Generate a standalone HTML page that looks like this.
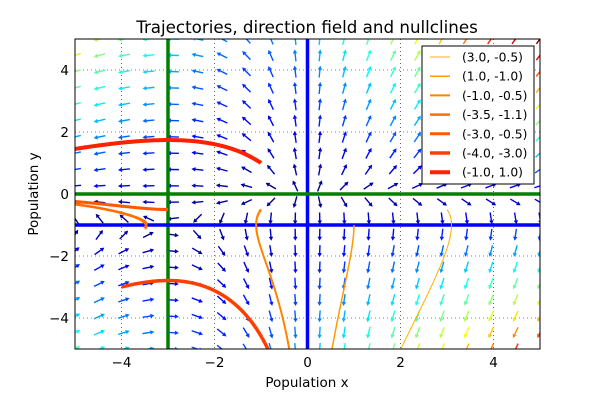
<!DOCTYPE html>
<html><head><meta charset="utf-8"><style>
body{margin:0;background:#fff}
svg text{font-family:"DejaVu Sans","Liberation Sans",sans-serif}
</style></head><body>
<svg id="chart" width="600" height="400" viewBox="0 0 600 400">
<rect width="600" height="400" fill="#fff"/>
<defs><clipPath id="pc"><rect x="75" y="39" width="465" height="310"/></clipPath></defs>
<text x="307" y="33" font-size="16.7" text-anchor="middle">Trajectories, direction field and nullclines</text>
<g id="grid"></g>
<g id="field" clip-path="url(#pc)"></g>
<g id="nulls" clip-path="url(#pc)"></g>
<g id="traj" clip-path="url(#pc)"></g>
<rect x="75" y="39" width="465" height="310" fill="none" stroke="#000" stroke-width="1"/>
<g id="ticks"></g>
<text x="307" y="387" font-size="13.5" text-anchor="middle">Population x</text>
<text x="38" y="194" font-size="13.5" text-anchor="middle" transform="rotate(-90 38 194)">Population y</text>
<g id="legend"></g>
</svg>
<script>
const ticks = [-4, -2, 0, 2, 4];
const initX = [3.0, 1.0, -1.0, -3.5, -3.0, -4.0, -1.0];
const initY = [-0.5, -1.0, -0.5, -1.1, -0.5, -3.0, 1.0];
const trajColors = ['#ffb000', '#ff9a00', '#ff8400', '#ff6e00', '#ff5800', '#ff3f00', '#ff2000'];
const nullX = [0, -3];
const nullY = [-1, 0];
const gridN = 20;
const NS = 'http://www.w3.org/2000/svg';
const sx = v => 307.5 + v * 46.5;
const sy = v => 194 - v * 31;
const fx = (x, y) => x * (y + 1);
const fy = (x, y) => y * (x + 3);
function mk(tag, attrs, parent) { const e = document.createElementNS(NS, tag); for (const k in attrs) e.setAttribute(k, attrs[k]); parent.appendChild(e); return e; }
function jet(t) {
  const c = v => Math.round(255 * Math.max(0, Math.min(1, v)));
  return `rgb(${c(1.5 - Math.abs(4 * t - 3))},${c(1.5 - Math.abs(4 * t - 2))},${c(1.5 - Math.abs(4 * t - 1))})`;
}
const grid = document.getElementById('grid'), tk = document.getElementById('ticks');
ticks.forEach(t => {
  let l = mk('line', {x1: sx(t), x2: sx(t), y1: 39, y2: 349, stroke: '#000', 'stroke-width': 0.6, 'stroke-dasharray': '1,3'}, grid);
  
  
  l = mk('line', {x1: 75, x2: 540, y1: sy(t), y2: sy(t), stroke: '#000', 'stroke-width': 0.6, 'stroke-dasharray': '1,3'}, grid);
  
  
  const lab = t < 0 ? '\u2212' + (-t) : '' + t;
  let a = mk('text', {x: sx(t), y: 367, 'font-size': 13.5, 'text-anchor': 'middle'}, tk);
  a.textContent = lab;
  
  
  a = mk('text', {x: 69, y: sy(t) + 5, 'font-size': 13.5, 'text-anchor': 'end'}, tk);
  a.textContent = lab;
  
  
});
const field = document.getElementById('field');
let pts = [], maxM = 0;
for (let i = 0; i < gridN; i++) for (let j = 0; j < gridN; j++) {
  const x = -5 + 10 * i / (gridN - 1), y = -5 + 10 * j / (gridN - 1);
  const u = fx(x, y), v = fy(x, y), m = Math.hypot(u, v);
  maxM = Math.max(maxM, m); pts.push([x, y, u, v, m]);
}
pts.forEach(([x, y, u, v, m]) => {
  if (m === 0) return;
  const ang = Math.atan2(-v, u) * 180 / Math.PI, L = 12;
  const p = mk('polygon', {points: `${-L/2},-0.7 ${L/2-4},-0.7 ${L/2-4},-2.2 ${L/2},0 ${L/2-4},2.2 ${L/2-4},0.7 ${-L/2},0.7`,
    fill: jet(m / maxM), transform: `translate(${sx(x)},${sy(y)}) rotate(${ang})`}, field);
  
  
});
const nulls = document.getElementById('nulls');
nullX.forEach(v => { const l = mk('line', {x1: sx(v), x2: sx(v), y1: 39, y2: 349, stroke: v === 0 ? '#0000ff' : '#008000', 'stroke-width': 3.5}, nulls);
    });
nullY.forEach(v => { const l = mk('line', {x1: 75, x2: 540, y1: sy(v), y2: sy(v), stroke: v === 0 ? '#008000' : '#0000ff', 'stroke-width': 3.5}, nulls);
    });
const traj = document.getElementById('traj'), leg = document.getElementById('legend');
const lr = mk('rect', {x: 422, y: 46, width: 112, height: 138, fill: '#fff', stroke: '#000', 'stroke-width': 1}, leg);


initX.forEach((x0, k) => {
  let x = x0, y = initY[k], d = `M${sx(x)},${sy(y)}`;
  const h = 0.0005;
  for (let s = 0; s < 40000; s++) {
    const k1x = fx(x, y), k1y = fy(x, y);
    const k2x = fx(x + h/2*k1x, y + h/2*k1y), k2y = fy(x + h/2*k1x, y + h/2*k1y);
    const k3x = fx(x + h/2*k2x, y + h/2*k2y), k3y = fy(x + h/2*k2x, y + h/2*k2y);
    const k4x = fx(x + h*k3x, y + h*k3y), k4y = fy(x + h*k3x, y + h*k3y);
    x += h/6*(k1x + 2*k2x + 2*k3x + k4x); y += h/6*(k1y + 2*k2y + 2*k3y + k4y);
    if (s % 4 === 0) d += `L${sx(x).toFixed(1)},${sy(y).toFixed(1)}`;
    if (Math.abs(x) > 5.5 || Math.abs(y) > 5.5) break;
  }
  const w = 1 + 0.5 * k;
  const p = mk('path', {d, fill: 'none', stroke: trajColors[k], 'stroke-width': w}, traj);
  
  
  const yy = 57 + 19.2 * k;
  const ll = mk('line', {x1: 430, x2: 450, y1: yy, y2: yy, stroke: trajColors[k], 'stroke-width': w}, leg);
  
  
  const t = mk('text', {x: 462, y: yy + 4.5, 'font-size': 12.3}, leg);
  t.textContent = `(${x0.toFixed(1)}, ${initY[k].toFixed(1)})`;
  
  
});
</script>
</body></html>
